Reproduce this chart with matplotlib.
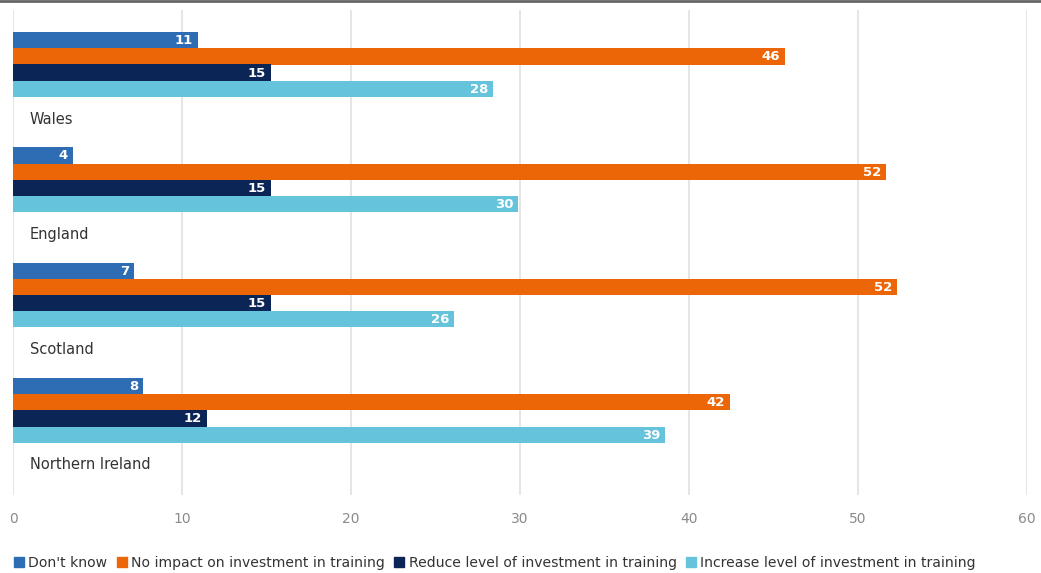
import matplotlib
matplotlib.use("Agg")
import matplotlib.pyplot as plt
from matplotlib.lines import Line2D

regions = ["Wales", "England", "Scotland", "Northern Ireland"]
series = ["Don't know", "No impact on investment in training",
          "Reduce level of investment in training", "Increase level of investment in training"]
dont_know = [10.95, 3.55, 7.16, 7.7]
no_impact = [45.7, 51.65, 52.3, 42.4]
reduce_lvl = [15.27, 15.27, 15.27, 11.5]
increase_lvl = [28.4, 29.9, 26.1, 38.6]
values = [dont_know, no_impact, reduce_lvl, increase_lvl]
colors = ["#2E6DB4", "#EC6608", "#0C2557", "#65C3DB"]
xticks = [0, 10, 20, 30, 40, 50, 60]

W, H = 1041, 573
fig = plt.figure(figsize=(W / 100, H / 100), dpi=100)
ax = fig.add_axes([13 / W, 1 - 495 / H, (1027 - 13) / W, (495 - 10) / H])
ax.set_xlim(0, 60)
ax.set_ylim(485, 0)

bar_h = 16.3
group_gap = 115.3
first_top = 22
for j, (name, vals, c) in enumerate(zip(series, values, colors)):
    for i, v in enumerate(vals):
        top = first_top + group_gap * i + 16.2 * j
        ax.barh(top + bar_h / 2, v, height=bar_h, color=c, linewidth=0)
        ax.text(v - 0.3, top + bar_h / 2 + 0.5, str(int(v + 0.5)), ha="right", va="center",
                color="white", fontsize=9.5, fontweight="bold", family="DejaVu Sans")

for i, r in enumerate(regions):
    ax.text(1.0, first_top + group_gap * i + 87, r, ha="left", va="center",
            fontsize=10.5, color="#333333")

ax.set_xticks(xticks)
ax.set_xticklabels([str(t) for t in xticks], color="#8a8a8a", fontsize=10)
ax.tick_params(axis="x", length=0, pad=12)
ax.set_yticks([])
ax.grid(axis="x", color="#e0e0e0", linewidth=1.2)
ax.set_axisbelow(True)
for s in ax.spines.values():
    s.set_visible(False)

fig.add_artist(Line2D([0, 1], [1 - 1 / H, 1 - 1 / H], color="#666666", linewidth=2,
                      transform=fig.transFigure))

handles = [Line2D([], [], marker="s", linestyle="", markersize=7, color=c) for c in colors]
fig.legend(handles, series, loc="center left", bbox_to_anchor=(2 / W, 1 - 563 / H),
           ncol=4, frameon=False, fontsize=10.1, handlelength=0.6, handletextpad=0.35,
           columnspacing=0.75, labelcolor="#333333")

fig.savefig("out.png", dpi=100)
